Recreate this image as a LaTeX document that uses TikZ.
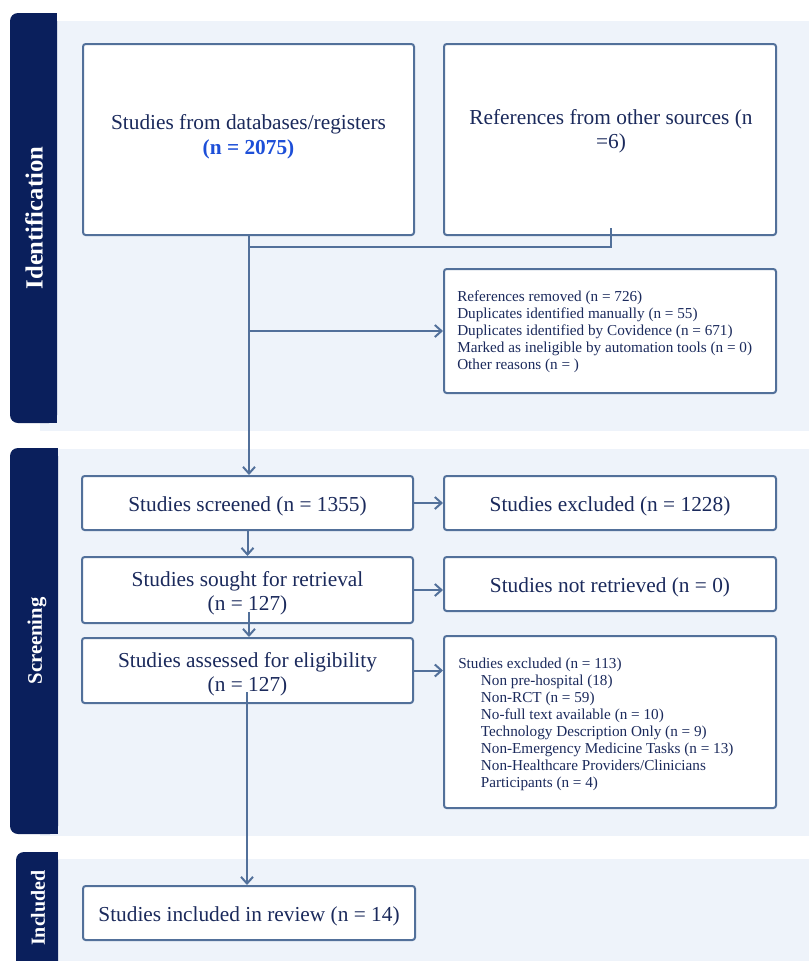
\documentclass[tikz,border=0pt]{standalone}
\usepackage{fontspec}
\setmainfont{Liberation Serif}
\usetikzlibrary{arrows.meta,calc}
\definecolor{navy}{HTML}{0A1F5C}
\definecolor{lightbg}{HTML}{EEF3FA}
\definecolor{edgec}{HTML}{52709A}
\definecolor{txtc}{HTML}{1B2A5C}
\definecolor{hiblue}{HTML}{1D4FD8}
\def\pxu{0.75pt}
\tikzset{
  boxnode/.style={draw=edgec, line width=1.5pt, fill=white, rounded corners=2pt, inner sep=0pt},
  maintext/.style={text=txtc, align=center, font=\fontsize{16}{18}\selectfont, inner sep=0pt, text height=, yshift=-2.6pt},
  smalltext/.style={text=txtc, align=left, font=\fontsize{11.4}{12.75}\selectfont, inner sep=0pt},
  tablabel/.style={text=white, rotate=90, inner sep=0pt},
  flow/.style={draw=edgec, line width=1.5pt},
  flowarrow/.style={flow, -{Straight Barb[length=5pt,width=9pt,line width=1.5pt]}},
  bw/.style={minimum width=#1*\pxu},
  bh/.style={minimum height=#1*\pxu},
}
\begin{document}
\begin{tikzpicture}[x=0.75pt,y=-0.75pt]
\useasboundingbox (0,0) rectangle (809,961);
\fill[white] (0,0) rectangle (809,961);
% bands
\fill[lightbg] (40,21) rectangle (809,431);
\fill[navy, rounded corners=6pt] (10,13) rectangle (57,423);
\fill[navy] (40,13) rectangle (57,423);
\fill[lightbg] (40,449) rectangle (809,836);
\fill[navy, rounded corners=6pt] (10,448) rectangle (58,834);
\fill[navy] (40,448) rectangle (58,834);
\fill[lightbg] (40,859) rectangle (809,961);
\fill[navy, rounded corners=6pt] (16,852) rectangle (58,975);
\fill[navy] (40,852) rectangle (58,961);
\node[tablabel, font=\fontsize{18.5}{20}\selectfont\bfseries] (tid) at (34,218) {Identification};
\node[tablabel, font=\fontsize{15.5}{18}\selectfont\bfseries] (tsc) at (37,641) {Screening};
\node[tablabel, font=\fontsize{15}{18}\selectfont\bfseries] (tin) at (38,908) {Included};
% boxes
\node[boxnode, bw=331, bh=191] (b1) at (248.5,139.5) {};
\node[maintext] (b1t) at (248.5,133) {Studies from databases/registers\\[1pt]\textcolor{hiblue}{\bfseries (n = 2075)}};
\node[boxnode, bw=332, bh=191] (b2) at (610,139.5) {};
\node[maintext] (b2t) at (611,128) {References from other sources (n\\=6)};
\node[boxnode, bw=332, bh=124] (b3) at (610,331) {};
\node[smalltext, anchor=west] (b3t) at (457,332) {References removed (n = 726)\\Duplicates identified manually (n = 55)\\Duplicates identified by Covidence (n = 671)\\Marked as ineligible by automation tools (n = 0)\\Other reasons (n = )};
\node[boxnode, bw=331, bh=54] (sc) at (247.5,503) {};
\node[maintext] (sct) at (sc.center) {Studies screened (n = 1355)};
\node[boxnode, bw=331, bh=66] (so) at (247.5,590) {};
\node[maintext] (sot) at (so.center) {Studies sought for retrieval\\(n = 127)};
\node[boxnode, bw=331, bh=65] (as) at (247.5,670.5) {};
\node[maintext] (ast) at (as.center) {Studies assessed for eligibility\\(n = 127)};
\node[boxnode, bw=332, bh=54] (ex1) at (610,503) {};
\node[maintext] (ex1t) at (ex1.center) {Studies excluded (n = 1228)};
\node[boxnode, bw=332, bh=54] (ex2) at (610,584) {};
\node[maintext] (ex2t) at (ex2.center) {Studies not retrieved (n = 0)};
\node[boxnode, bw=332, bh=172] (ex3) at (610,722) {};
\node[smalltext, anchor=west] (ex3t) at (458,724) {Studies excluded (n = 113)\\
\hspace*{17pt}Non pre-hospital (18)\\
\hspace*{17pt}Non-RCT (n = 59)\\
\hspace*{17pt}No-full text available (n = 10)\\
\hspace*{17pt}Technology Description Only (n = 9)\\
\hspace*{17pt}Non-Emergency Medicine Tasks (n = 13)\\
\hspace*{17pt}Non-Healthcare Providers/Clinicians\\
\hspace*{17pt}Participants (n = 4)};
\node[boxnode, bw=332, bh=54] (inc) at (249,913) {};
\node[maintext] (inct) at (inc.center) {Studies included in review (n = 14)};
% connectors
\coordinate (j1) at (249,247);
\coordinate (j2) at (611,247);
\coordinate (b2in) at (611,228);
\coordinate (j3) at (249,331);
\coordinate (soin) at (249,612);
\coordinate (asin) at (247,692);
\draw[flow] (b2in) -- (j2) -- (j1);
\draw[flowarrow] (b1.south -| j1) -- (sc.north -| j1);
\draw[flowarrow] (j3) -- (b3.west);
\draw[flowarrow] (sc.south) -- (so.north);
\draw[flowarrow] (soin) -- (as.north -| soin);
\draw[flowarrow] (asin) -- (inc.north -| asin);
\draw[flowarrow] (sc.east) -- (ex1.west);
\draw[flowarrow] (so.east) -- (so.east -| ex2.west);
\draw[flowarrow] (as.east) -- (as.east -| ex3.west);
\end{tikzpicture}
\end{document}
